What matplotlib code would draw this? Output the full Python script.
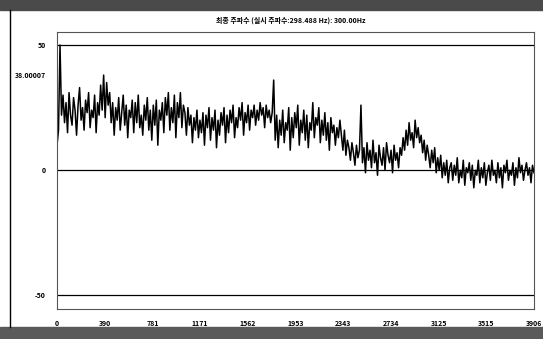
import matplotlib
matplotlib.use("Agg")
import matplotlib.pyplot as plt
import numpy as np

plt.rcParams['font.family'] = ['Noto Sans CJK KR', 'DejaVu Sans']

title = "최종 주파수 (실시 주파수:298.488 Hz): 300.00Hz"
x_max = 3906
x_ticks = [0, 390, 781, 1171, 1562, 1953, 2343, 2734, 3125, 3515, 3906]
y_ticks = [50, 38.00007, 0, -50]
y_tick_labels = ["50", "38.00007", "0", "-50"]
ref_lines = [50, 0, -50]

signal = [
    10, 16,
    50, 22,
    30, 19, 27, 15, 31, 22, 18, 29, 24, 14, 26, 33, 20, 25, 16, 28, 23, 31, 17, 24, 21, 30, 15, 27, 22,
    34, 24, 38, 21, 35, 26, 31, 19,
    27, 14, 25, 20, 29, 16, 23, 30, 18, 26, 13, 24, 21, 28, 15, 27, 19, 30, 17, 22, 14, 26, 20, 29, 16, 24,
    12, 26, 18, 28, 10, 24, 20, 27, 15, 29,
    22, 31, 16, 25, 19, 30, 13, 27, 21, 31,
    17, 26, 23, 14, 25, 18, 22, 11, 21, 16,
    24, 13, 20, 15, 23, 10, 22, 17, 25, 12,
    21, 16, 24, 9, 20, 14, 23, 18, 25, 11,
    22, 15, 24, 19, 26, 13, 21, 17, 25, 20,
    27, 14, 23, 19, 26, 16, 24, 21,
    26, 18, 24, 20, 27, 22, 25, 17, 26, 21, 24, 19, 23,
    36, 12,
    22, 9, 20, 14, 24, 11, 19, 16, 25, 8, 21, 13, 23, 17, 26, 10,
    20, 15, 24, 12, 22, 9, 19, 16, 27, 13, 21, 18, 25, 11, 20, 14, 23, 12, 19, 8,
    21, 15, 18, 10, 17, 13, 20,
    14, 8, 16, 6, 12, 9, 4, 11, 7, 2, 10, 5, 8,
    26, 3, 9, -1, 11, 4, 8, 1, 12, 3, 7, -2, 10, 5, 2, 9, 0, 11, 6, 3, 8, -1, 10, 4, 7, 1, 9,
    6, 13, 8, 16, 10, 19, 12, 15, 9, 20, 13, 17, 11,
    14, 7, 12, 4, 10, 6, 1, 8, 3, 9, -1, 5, 0, 6, -3, 3, -2, 4, -5, 1,
    3, -4, 2, -2, 5, -5, 0, -3, 4, -6, 1, -1, 3, -4, 2, -7, 0, -2, 4, -5,
    1, -3, 3, -6, -1, 2, -4, 4, -2, 0, -5, 3, -3, 1, -7, 2, -1, 4, -4, 0,
    -2, 3, -6, 1, -3, 5, -1, 2, -4, 0, 3, -2, 1, -5, 2, -1,
]

xs = np.linspace(0, x_max, len(signal))

W, H = 543, 339
fig = plt.figure(figsize=(W / 100, H / 100), dpi=100)
fig.patch.set_facecolor("white")

# window chrome: top and bottom dark bands, left border line
fig.add_artist(plt.Rectangle((0, 1 - 10 / H), 1, 10 / H, transform=fig.transFigure,
                             color="#4a4a4a", zorder=0))
fig.add_artist(plt.Rectangle((0, 0), 1, 12 / H, transform=fig.transFigure,
                             color="#5a5a5a", zorder=0))
fig.add_artist(plt.Line2D([10 / W, 10 / W], [12 / H, 1 - 10 / H], transform=fig.transFigure,
                          color="black", lw=1))

ax = fig.add_axes([57 / W, 30 / H, 477 / W, 277 / H])
ax.plot(xs, signal, color="black", lw=1.1)
for v in ref_lines:
    ax.axhline(v, color="black", lw=0.9)

ax.set_xlim(0, x_max)
ax.set_ylim(-55.4, 55.2)
ax.set_xticks(x_ticks)
ax.set_xticklabels([str(t) for t in x_ticks], fontsize=5, fontweight="bold")
ax.set_yticks(y_ticks)
ax.set_yticklabels(y_tick_labels, fontsize=5, fontweight="bold")
ax.tick_params(length=0, pad=8)
for s in ax.spines.values():
    s.set_color("#555555")
    s.set_linewidth(0.8)

fig.text(0.535, 1 - 20 / H, title, ha="center", va="center", fontsize=5, fontweight="bold")

fig.savefig("out.png", dpi=100)
